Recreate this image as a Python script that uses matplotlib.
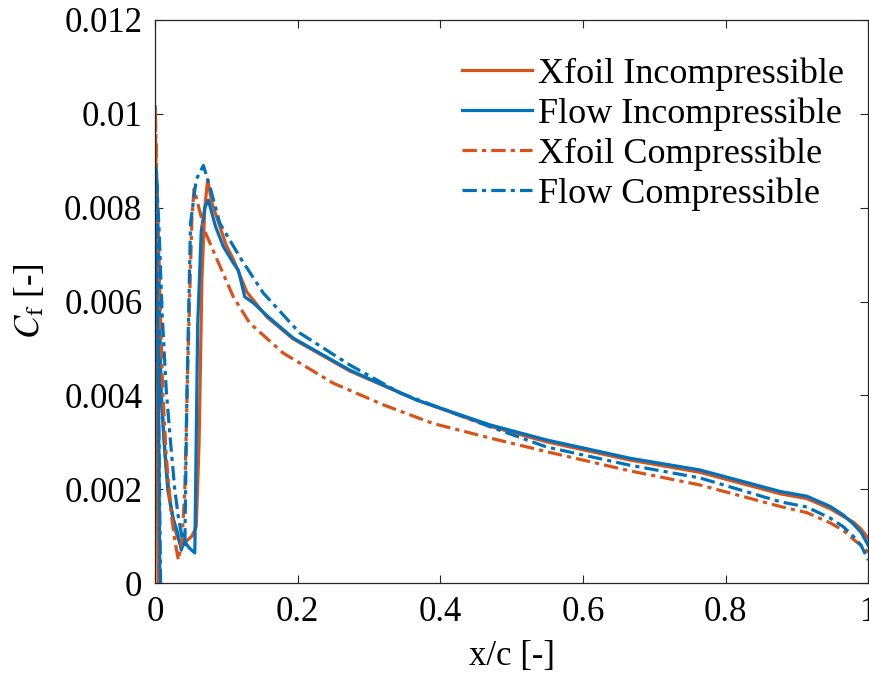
#!/usr/bin/env python3

import matplotlib
matplotlib.use("Agg")
import matplotlib.pyplot as plt

## Skin friction coefficient along the upper surface

x_xfoil_inc = [0.0045, 0.0008, 0.002, 0.005, 0.009, 0.015, 0.022, 0.029, 0.035, 0.040, 0.046, 0.052, 0.058,
               0.062, 0.066, 0.070, 0.074, 0.080, 0.091, 0.100, 0.110, 0.129, 0.157, 0.194, 0.273, 0.367,
               0.47, 0.549, 0.666, 0.764, 0.877, 0.914, 0.947, 0.965, 0.979, 0.99, 1.0]
cf_xfoil_inc = [0.0, 0.0094, 0.0080, 0.0058, 0.0040, 0.0026, 0.0017, 0.0011, 0.00085, 0.00082, 0.00092, 0.0010, 0.0012,
                0.0030, 0.0065, 0.0080, 0.0086, 0.0081, 0.0076, 0.0072, 0.0069, 0.0062, 0.00567, 0.0052, 0.00452, 0.0039,
                0.00334, 0.00301, 0.00262, 0.00236, 0.0019, 0.0018, 0.00158, 0.00142, 0.0013, 0.00115, 0.00095]

x_flow_inc = [0.007, 0.003, 0.005, 0.0087, 0.013, 0.018, 0.025, 0.032, 0.037, 0.041, 0.048, 0.056, 0.060,
              0.065, 0.070, 0.075, 0.085, 0.096, 0.110, 0.117, 0.126, 0.138, 0.157, 0.194, 0.273, 0.367,
              0.47, 0.549, 0.666, 0.764, 0.877, 0.914, 0.947, 0.965, 0.979, 0.99, 1.0]
cf_flow_inc = [0.0, 0.0085, 0.0072, 0.0041, 0.0030, 0.0020, 0.0014, 0.00107, 0.0007, 0.0009, 0.00075, 0.00064, 0.0055,
               0.0075, 0.0080, 0.00816, 0.0076, 0.00717, 0.00682, 0.00667, 0.0061, 0.00597, 0.0057, 0.00522, 0.00454, 0.0039,
               0.00337, 0.00305, 0.00266, 0.00241, 0.00195, 0.00185, 0.00163, 0.00145, 0.00126, 0.00108, 0.0008]

x_xfoil_comp = [0.007, 0.0005, 0.004, 0.011, 0.016, 0.022, 0.028, 0.033, 0.038, 0.042, 0.046, 0.049, 0.052,
                0.055, 0.060, 0.070, 0.087, 0.110, 0.133, 0.18, 0.25, 0.32, 0.39, 0.47, 0.549, 0.666,
                0.764, 0.877, 0.914, 0.947, 0.965, 0.98, 0.99, 1.0]
cf_xfoil_comp = [0.0, 0.0102, 0.0077, 0.0041, 0.0027, 0.0016, 0.0009, 0.00049, 0.0009, 0.0020, 0.0045, 0.0062, 0.0078,
                 0.0084, 0.0081, 0.0075, 0.0069, 0.0061, 0.00554, 0.0049, 0.00426, 0.0038, 0.0034, 0.00309, 0.0028, 0.00239,
                 0.00209, 0.00163, 0.0015, 0.00128, 0.00112, 0.00092, 0.0008, 0.00066]

x_flow_comp = [0.008, 0.0015, 0.006, 0.010, 0.016, 0.022, 0.028, 0.033, 0.037, 0.042, 0.045, 0.050, 0.058,
               0.068, 0.078, 0.091, 0.119, 0.152, 0.203, 0.273, 0.344, 0.47, 0.549, 0.666, 0.764, 0.877,
               0.914, 0.947, 0.965, 0.98, 0.99, 1.0]
cf_flow_comp = [0.0, 0.0089, 0.0075, 0.0058, 0.0041, 0.0030, 0.00198, 0.0014, 0.00107, 0.00077, 0.0041, 0.00767, 0.0086,
                0.0089, 0.0084, 0.00767, 0.00695, 0.00618, 0.00533, 0.00465, 0.00405, 0.00333, 0.0029, 0.00251, 0.00224, 0.00173,
                0.00162, 0.00138, 0.0012, 0.00098, 0.0008, 0.00049]

x_ticks = [0, 0.2, 0.4, 0.6, 0.8, 1]
x_ticklabels = ["0", "0.2", "0.4", "0.6", "0.8", "1"]
y_ticks = [0, 0.002, 0.004, 0.006, 0.008, 0.01, 0.012]
y_ticklabels = ["0", "0.002", "0.004", "0.006", "0.008", "0.01", "0.012"]

plt.rcParams['font.family'] = ['Liberation Serif', 'DejaVu Serif']
plt.rcParams['mathtext.fontset'] = 'stix'

orange = '#D95319'
blue = '#0072BD'
dashdot = (4.5, 1.6, 1.3, 1.6)

fig = plt.figure(figsize=(8.7, 6.8), dpi=100)
ax = fig.add_axes([0.178, 0.1426, 0.820, 0.828])

ax.plot(x_xfoil_inc, cf_xfoil_inc, color=orange, lw=2.3, label='Xfoil Incompressible')
ax.plot(x_flow_inc, cf_flow_inc, color=blue, lw=2.3, label='Flow Incompressible')
ax.plot(x_xfoil_comp, cf_xfoil_comp, color=orange, lw=2.3, dashes=dashdot, label='Xfoil Compressible')
ax.plot(x_flow_comp, cf_flow_comp, color=blue, lw=2.3, dashes=dashdot, label='Flow Compressible')

ax.set_xlim(0, 1)
ax.set_ylim(0, 0.012)
ax.set_xticks(x_ticks)
ax.set_xticklabels(x_ticklabels)
ax.set_yticks(y_ticks)
ax.set_yticklabels(y_ticklabels)
ax.tick_params(direction='in', length=6, width=0.8, top=True, right=True,
               labelsize=25, colors='#262626', labelcolor='black')
ax.tick_params(axis='y', pad=9)
ax.tick_params(axis='x', pad=9)
for sp in ax.spines.values():
    sp.set_color('#262626')
    sp.set_linewidth(0.9)

ax.set_xlabel('x/c [-]', fontsize=25, labelpad=8)
ax.set_ylabel(r'$C_\mathrm{f}$ [-]', fontsize=25, labelpad=12)

ax.legend(loc='upper right', frameon=False, fontsize=26, handlelength=1.95,
          handletextpad=0.15, labelspacing=0.18, borderaxespad=0.4,
          bbox_to_anchor=(1.006, 0.985))

fig.savefig('out.png', dpi=100)
